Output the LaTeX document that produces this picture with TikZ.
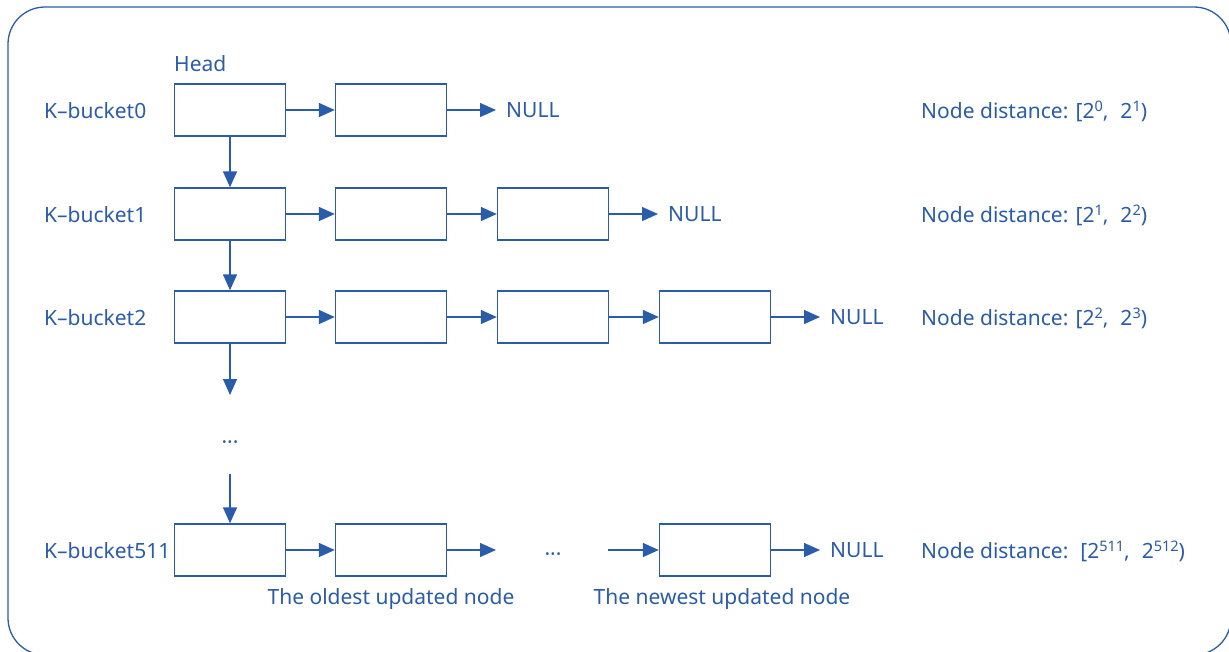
\documentclass[tikz,border=0pt]{standalone}
\usepackage{fontspec}
\setmainfont{Noto Sans}
\usetikzlibrary{arrows.meta}
\definecolor{kblue}{RGB}{42,92,170}
% raised exponent for the distance ranges
\newcommand{\pw}[1]{\raisebox{7pt}{\fontsize{14.5}{15}\selectfont #1}}
\begin{document}
\begin{tikzpicture}[x=1pt,y=-1pt,
  every node/.style={text=kblue, font=\fontsize{21}{24}\selectfont},
  bucket/.style={draw=kblue, line width=1.4pt, minimum width=111pt, minimum height=52pt, inner sep=0pt},
  link/.style={draw=kblue, line width=1.4pt, -{Triangle[length=16pt,width=14pt]}},
  txt/.style={anchor=base west, inner sep=0pt},
  nullend/.style={anchor=west, inner sep=0pt, inner xsep=10pt}]

% page and outer frame (its right and bottom edges run off the page)
\useasboundingbox (0,0) rectangle (1229,651);
\begin{scope}
  \clip (0,0) rectangle (1229,651);
  \draw[kblue, line width=1.3pt, rounded corners=37pt] (8,7) rectangle (1231,655);
\end{scope}

% bucket rows
\node[bucket] (b00) at (230,110) {};
\node[bucket] (b01) at (391,110) {};

\node[bucket] (b10) at (230,214) {};
\node[bucket] (b11) at (391,214) {};
\node[bucket] (b12) at (553,214) {};

\node[bucket] (b20) at (230,317) {};
\node[bucket] (b21) at (391,317) {};
\node[bucket] (b22) at (553,317) {};
\node[bucket] (b23) at (715,317) {};

\node[bucket] (b30) at (230,550) {};
\node[bucket] (b31) at (391,550) {};
\node[bucket] (b32) at (715,550) {};

% NULL terminators
\node[nullend] (n0) at (496,110) {NULL};
\node[nullend] (n1) at (658,214) {NULL};
\node[nullend] (n2) at (820,317) {NULL};
\node[nullend] (n3) at (820,550) {NULL};

% row labels
\node[txt] (h) at (174,71) {Head};
\node[txt] (k0) at (44,118) {K–bucket0};
\node[txt] (k1) at (44,222) {K–bucket1};
\node[txt] (k2) at (44,325) {K–bucket2};
\node[txt] (k3) at (44,558) {K–bucket511};

% distance ranges
\node[txt] (d0) at (921,118) {Node distance: [2\pw{0},\hspace{12pt}2\pw{1})};
\node[txt] (d1) at (921,222) {Node distance: [2\pw{1},\hspace{12pt}2\pw{2})};
\node[txt] (d2) at (921,325) {Node distance: [2\pw{2},\hspace{12pt}2\pw{3})};
\node[txt] (d3) at (921,558) {Node distance:\hspace{12pt}[2\pw{511},\hspace{12pt}2\pw{512})};

% bottom captions
\node[anchor=base, inner sep=0pt] (old) at (391,604) {The oldest updated node};
\node[anchor=base, inner sep=0pt] (new) at (722,604) {The newest updated node};

% ellipses
\node[inner sep=0pt] (vd) at (230,445) {···};
\node[inner sep=0pt] (hd) at (553,557) {···};

\coordinate (v1) at (230,395);
\coordinate (v2) at (230,474);
\coordinate (h1) at (496,550);
\coordinate (h2) at (608,550);

% horizontal links
\draw[link] (b00.east) -- (b01.west);
\draw[link] (b01.east) -- (n0.west);

\draw[link] (b10.east) -- (b11.west);
\draw[link] (b11.east) -- (b12.west);
\draw[link] (b12.east) -- (n1.west);

\draw[link] (b20.east) -- (b21.west);
\draw[link] (b21.east) -- (b22.west);
\draw[link] (b22.east) -- (b23.west);
\draw[link] (b23.east) -- (n2.west);

\draw[link] (b30.east) -- (b31.west);
\draw[link] (b31.east) -- (h1);
\draw[link] (h2) -- (b32.west);
\draw[link] (b32.east) -- (n3.west);

% head chain
\draw[link] (b00.south) -- (b10.north);
\draw[link] (b10.south) -- (b20.north);
\draw[link] (b20.south) -- (v1);
\draw[link] (v2) -- (b30.north);
\end{tikzpicture}
\end{document}
